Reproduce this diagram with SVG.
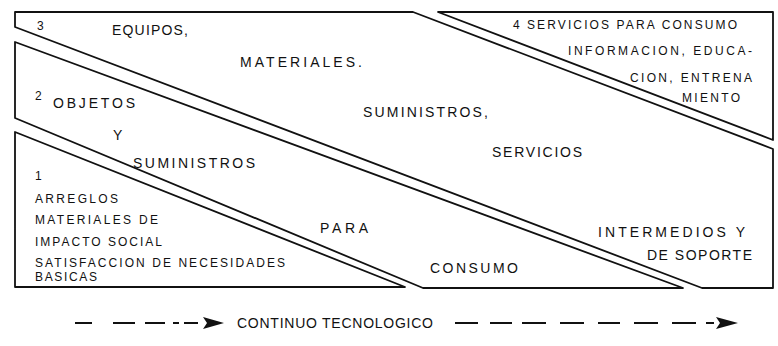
<svg xmlns="http://www.w3.org/2000/svg" width="778" height="346" viewBox="0 0 778 346">
<style>
.frame{fill:none;stroke:#111;stroke-width:1.8;stroke-linejoin:round}
.t{font-family:"Liberation Sans",Arial,sans-serif;fill:#111;font-size:14px}
.s{font-size:12px}
.a{fill:none;stroke:#111;stroke-width:1.8}
</style>
<rect width="778" height="346" fill="#fff"/>
<g id="region4">
<polygon class="frame" points="438,12 773,12 773,140"/>
<text class="t s" x="513" y="29">4</text>
<text class="t s" x="527" y="29" textLength="210" lengthAdjust="spacing">SERVICIOS PARA CONSUMO</text>
<text class="t s" x="568" y="55" textLength="184" lengthAdjust="spacing">INFORMACION, EDUCA-</text>
<text class="t s" x="630" y="82" textLength="122" lengthAdjust="spacing">CION, ENTRENA</text>
<text class="t s" x="682" y="102" textLength="58" lengthAdjust="spacing">MIENTO</text>
</g>
<g id="region3">
<polygon class="frame" points="15,12 413,12 773,149 773,288 702,288 15,27"/>
<text class="t s" x="37" y="30">3</text>
<text class="t" x="112" y="35" textLength="76" lengthAdjust="spacing">EQUIPOS,</text>
<text class="t" x="240" y="67" textLength="122" lengthAdjust="spacing">MATERIALES.</text>
<text class="t" x="363" y="117" textLength="125" lengthAdjust="spacing">SUMINISTROS,</text>
<text class="t" x="492" y="157" textLength="90" lengthAdjust="spacing">SERVICIOS</text>
<text class="t" x="598" y="237" textLength="147" lengthAdjust="spacing">INTERMEDIOS Y</text>
<text class="t" x="647" y="260" textLength="105" lengthAdjust="spacing">DE SOPORTE</text>
</g>
<g id="region2">
<polygon class="frame" points="15,42 683,288 423,288 15,118"/>
<text class="t s" x="35" y="100">2</text>
<text class="t" x="53" y="108" textLength="82" lengthAdjust="spacing">OBJETOS</text>
<text class="t" x="113" y="140">Y</text>
<text class="t" x="133" y="168" textLength="122" lengthAdjust="spacing">SUMINISTROS</text>
<text class="t" x="320" y="233" textLength="48" lengthAdjust="spacing">PARA</text>
<text class="t" x="430" y="273" textLength="88" lengthAdjust="spacing">CONSUMO</text>
</g>
<g id="region1">
<polygon class="frame" points="15,132 405,287 15,287"/>
<text class="t s" x="35" y="180">1</text>
<text class="t s" x="35" y="203" textLength="83" lengthAdjust="spacing">ARREGLOS</text>
<text class="t s" x="35" y="224" textLength="123" lengthAdjust="spacing">MATERIALES DE</text>
<text class="t s" x="35" y="246" textLength="127" lengthAdjust="spacing">IMPACTO SOCIAL</text>
<text class="t s" x="35" y="267" textLength="250" lengthAdjust="spacing">SATISFACCION DE NECESIDADES</text>
<text class="t s" x="35" y="281" textLength="62" lengthAdjust="spacing">BASICAS</text>
</g>
<g id="connectors">
<path class="a" d="M75 323h17M113 323h22M145 323h20M173 323h6M184 323h14"/>
<path d="M203 317L224 323L203 329L207 323Z" fill="#111"/>
<text class="t" x="237" y="328" font-size="13" textLength="196" lengthAdjust="spacing">CONTINUO TECNOLOGICO</text>
<path class="a" d="M455 323h23M490 323h22M522 323h24M560 323h24M598 323h22M634 323h24M672 323h24M706 323h8"/>
<path d="M716 317L738 323L716 329L720 323Z" fill="#111"/>
</g>
</svg>
